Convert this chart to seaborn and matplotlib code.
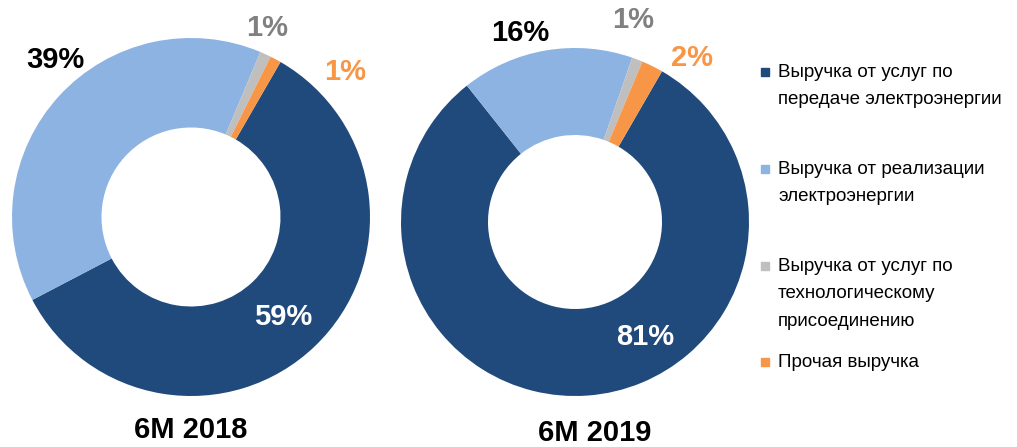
import matplotlib
matplotlib.use("Agg")
import matplotlib.pyplot as plt
import seaborn as sns

# --- data ---
categories = [
    "Выручка от услуг по\nпередаче электроэнергии",
    "Выручка от реализации\nэлектроэнергии",
    "Выручка от услуг по\nтехнологическому\nприсоединению",
    "Прочая выручка",
]
share_2018 = [59, 39, 1, 1]
share_2019 = [81, 16, 1, 2]
periods = ["6M 2018", "6M 2019"]

colors = ["#214a7c", "#8db3e2", "#bfbfbf", "#f79646"]
label_colors = ["white", "black", "#808080", "#f79646"]

sns.set_style("white")
plt.rcParams["font.family"] = ["Liberation Sans", "DejaVu Sans"]

W, H = 1017, 447
fig = plt.figure(figsize=(W / 100, H / 100), dpi=100)

# donut boxes in pixels: (center x, center y, radius)
boxes = [(191, 217, 179), (575, 222, 174)]
# label positions in units of the radius (hand placed like in the original)
label_pos = [
    [(0.514, -0.559), (-0.76, 0.877), (0.425, 1.056), (0.86, 0.81)],
    [(0.402, -0.661), (-0.316, 1.086), (0.333, 1.161), (0.672, 0.943)],
]
title_pos = [(0.0, -1.19), (0.115, -1.213)]

for i, values in enumerate([share_2018, share_2019]):
    cx, cy, r = boxes[i]
    ax = fig.add_axes([(cx - r) / W, (H - cy - r) / H, 2 * r / W, 2 * r / H])
    ax.pie(values, colors=colors, startangle=60, counterclock=False,
           radius=1, wedgeprops=dict(width=0.5, linewidth=0))
    ax.set_xlim(-1, 1)
    ax.set_ylim(-1, 1)
    ax.set_aspect("equal")
    ax.axis("off")
    for v, (lx, ly), c in zip(values, label_pos[i], label_colors):
        ax.text(lx, ly, f"{v}%", color=c, fontsize=21, fontweight="bold",
                ha="center", va="center", clip_on=False)
    tx, ty = title_pos[i]
    ax.text(tx, ty, periods[i], color="black", fontsize=21, fontweight="bold",
            ha="center", va="center", clip_on=False)

# legend drawn by hand to keep the uneven spacing of the original
legend_y = [72, 169, 266, 362]
for cat, col, y in zip(categories, colors, legend_y):
    fig.patches.append(plt.Rectangle(((765 - 4) / W, (H - y - 4) / H), 8 / W, 8 / H,
                                     transform=fig.transFigure, color=col))
    fig.text(778 / W, (H - y + 8) / H, cat, fontsize=13.5, color="black",
             ha="left", va="top", linespacing=1.8)

fig.savefig("out.png", dpi=100)
